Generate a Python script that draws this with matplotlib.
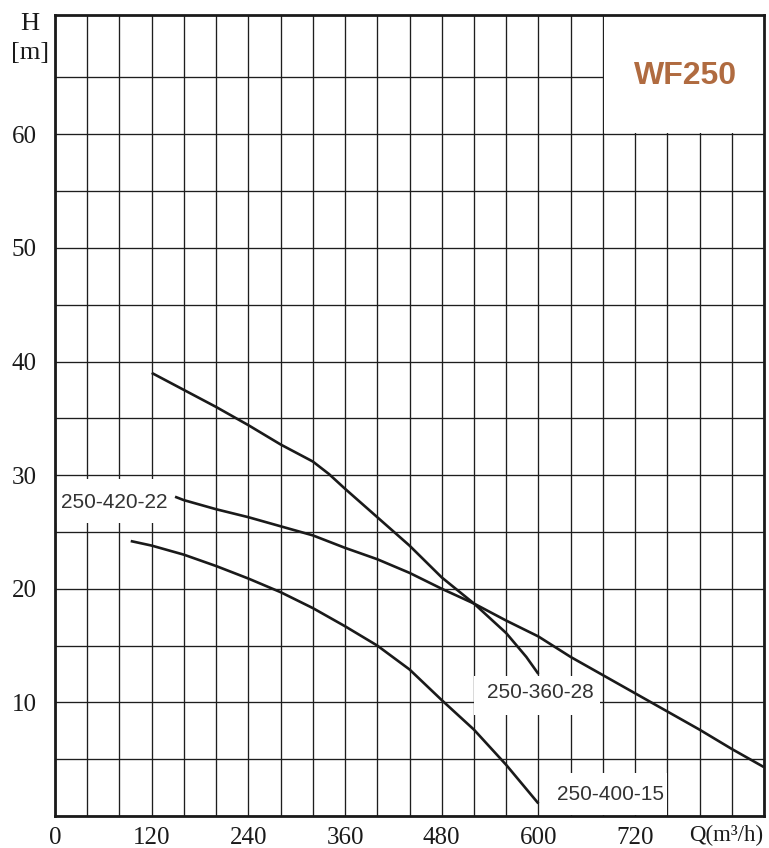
import numpy as np
import matplotlib
matplotlib.use("Agg")
import matplotlib.pyplot as plt
from matplotlib.patches import Rectangle

# pump curves: Q in m3/h, H in m
q_360_28 = [120, 160, 200, 240, 280, 320, 340, 360, 400, 440, 480, 520, 560, 585, 600]
h_360_28 = [39.0, 37.5, 36.0, 34.4, 32.7, 31.2, 30.1, 28.8, 26.3, 23.8, 21.0, 18.7, 16.1, 14.0, 12.5]

q_420_22 = [149, 160, 200, 240, 280, 320, 360, 400, 440, 480, 520, 560, 600, 640, 680, 720, 760, 800, 840, 880]
h_420_22 = [28.1, 27.8, 27.0, 26.3, 25.5, 24.7, 23.6, 22.6, 21.4, 20.0, 18.7, 17.2, 15.8, 14.0, 12.4, 10.8, 9.2, 7.6, 5.9, 4.3]

q_400_15 = [94, 120, 160, 200, 240, 280, 320, 360, 400, 440, 480, 520, 560, 600]
h_400_15 = [24.2, 23.8, 23.0, 22.0, 20.9, 19.7, 18.3, 16.7, 15.0, 12.9, 10.2, 7.6, 4.5, 1.1]

x_labels = [0, 120, 240, 360, 480, 600, 720]
y_labels = [10, 20, 30, 40, 50, 60]

SERIF = "Liberation Serif"
SANS = "Liberation Sans"
INK = "#1a1a1a"
LABEL = "#333333"
BROWN = "#b06b40"

fig = plt.figure(figsize=(7.69, 8.48), dpi=100)
ax = fig.add_axes([55/769, 32/848, 709/769, 801/848])
ax.set_xlim(0, 880)
ax.set_ylim(0, 70.5)

xt = np.arange(0, 881, 40)
yt = np.arange(0, 70, 5)
ax.set_xticks(xt)
ax.set_xticklabels([str(v) if v in x_labels else "" for v in xt])
ax.set_yticks(yt)
ax.set_yticklabels([str(v) if v in y_labels else "" for v in yt])
ax.tick_params(length=0, labelsize=18)
ax.tick_params(axis="x", pad=8)
ax.tick_params(axis="y", pad=13)
for lab in ax.get_xticklabels() + ax.get_yticklabels():
    lab.set_fontfamily(SERIF)
    lab.set_color(INK)

ax.set_axisbelow(True)
ax.grid(True, color="#1e1e1e", lw=0.95)
for s in ax.spines.values():
    s.set_linewidth(2.0)
    s.set_color(INK)

# white patches that hide the grid behind the title and curve labels
ax.add_patch(Rectangle((681, 60.1), 199, 10.4, facecolor="white", edgecolor="none", zorder=1.5))
ax.add_patch(Rectangle((1, 25.8), 151, 3.9, facecolor="white", edgecolor="none", zorder=1.5))
ax.add_patch(Rectangle((520, 8.9), 156, 3.4, facecolor="white", edgecolor="none", zorder=1.5))
ax.add_patch(Rectangle((602, 0.1), 158, 3.7, facecolor="white", edgecolor="none", zorder=1.5))

for q, h in [(q_360_28, h_360_28), (q_420_22, h_420_22), (q_400_15, h_400_15)]:
    ax.plot(q, h, color=INK, lw=1.9, zorder=3, solid_capstyle="butt")

ax.text(73, 27.6, "250-420-22", fontsize=15, family=SANS, color=LABEL, ha="center", va="center", zorder=4)
ax.text(603, 10.9, "250-360-28", fontsize=15, family=SANS, color=LABEL, ha="center", va="center", zorder=4)
ax.text(690, 1.9, "250-400-15", fontsize=15, family=SANS, color=LABEL, ha="center", va="center", zorder=4)

ax.text(782, 65.1, "WF250", fontsize=23, family=SANS, fontweight="bold", color=BROWN,
        ha="center", va="center", zorder=4)

fig.text(30/769, 1 - 24/848, "H", fontsize=19, family=SERIF, color=INK, ha="center", va="center")
fig.text(30/769, 1 - 53/848, "[m]", fontsize=19, family=SERIF, color=INK, ha="center", va="center")
fig.text(763/769, 1 - 835/848, "Q(m³/h)", fontsize=16.5, family=SERIF, color=INK, ha="right", va="center")

fig.savefig("out.png", dpi=100, facecolor="white")
